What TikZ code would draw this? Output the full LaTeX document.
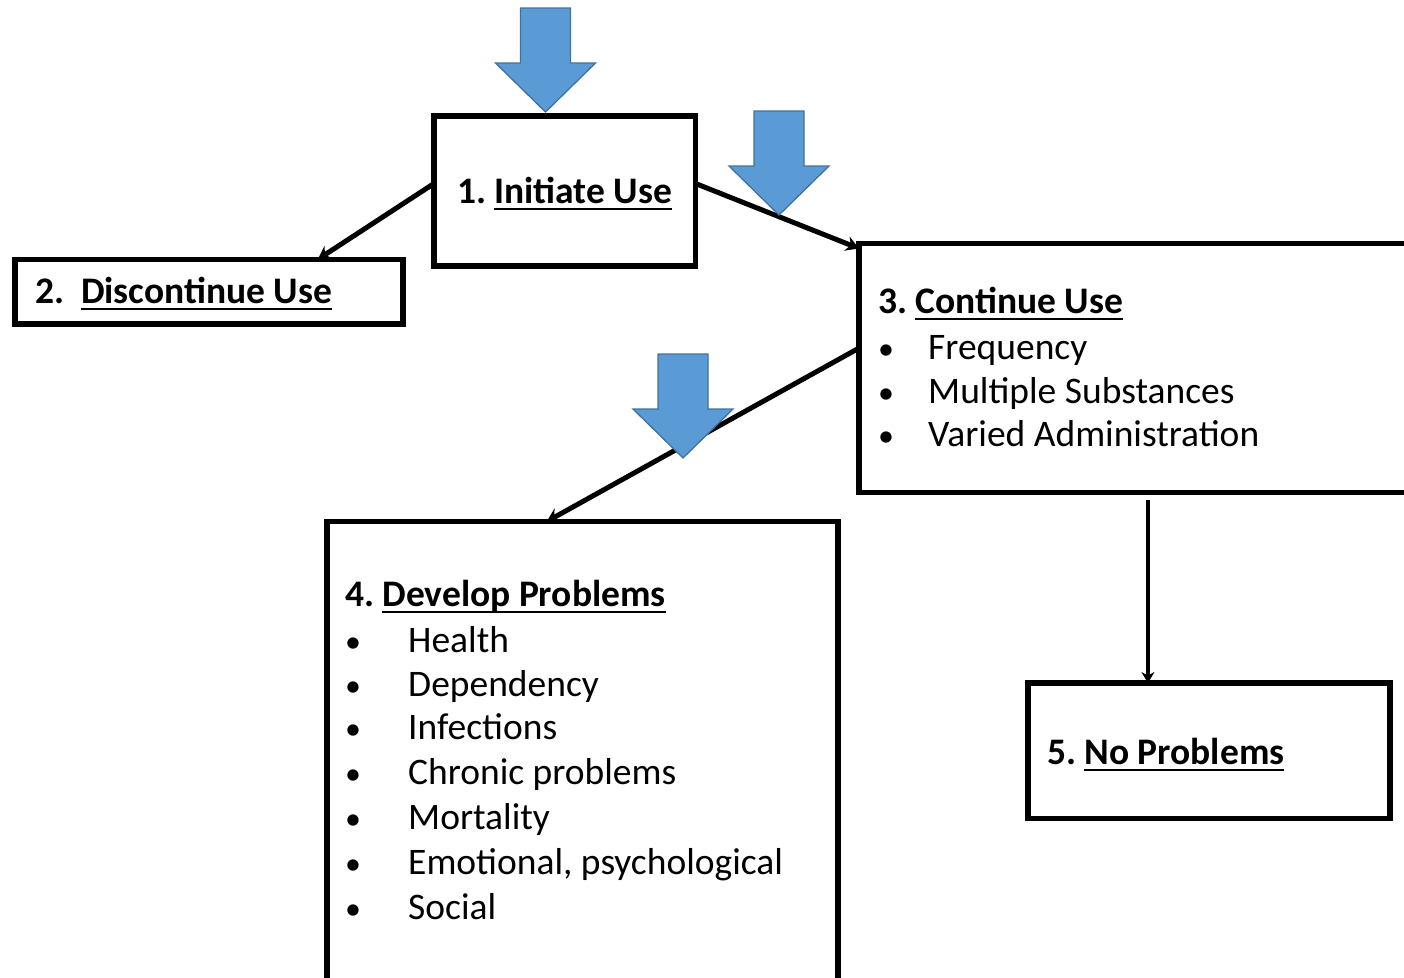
\documentclass[tikz,border=0pt]{standalone}
\usepackage{fontspec}
\setmainfont{Carlito}
\usetikzlibrary{arrows.meta,calc}

\definecolor{arrowblue}{HTML}{5B9BD5}
\definecolor{arrowedge}{HTML}{41719C}

% underline at a fixed depth below the baseline, ignoring descenders
\newcommand\ulword[1]{\setbox0\hbox{#1}\rlap{\rule[-0.19em]{\wd0}{0.06em}}\box0}
% list bullet set in a box of the given width
\newcommand\bul[1]{\makebox[#1][l]{\fontsize{32}{40}\selectfont•}}

\begin{document}
\begin{tikzpicture}[x=1pt,y=-1pt,
  stagebox/.style={draw, line width=5.5pt, rectangle, inner sep=0pt, outer sep=0pt, anchor=north west},
  link/.style={line width=5pt, -{Stealth[length=13pt,width=15pt]}},
  bluearrow/.style={fill=arrowblue, draw=arrowedge, line width=1.3pt, line join=miter},
  title/.style={anchor=base west, inner sep=0pt, font=\fontsize{37.5}{44}\selectfont\bfseries},
  item/.style={anchor=base west, inner sep=0pt, font=\fontsize{37.5}{44}\selectfont},
  downarrow/.pic={\draw[bluearrow] (-25,0) -- (25,0) -- (25,55) -- (50,55) -- (0,104) -- (-50,55) -- (-25,55) -- cycle;}
]
\useasboundingbox (0,0) rectangle (1404,977);

% stage boxes
\node[stagebox, minimum width=261.5pt, minimum height=150pt] (b1) at (434,116) {};
\node[stagebox, minimum width=388pt, minimum height=64.5pt] (b2) at (15,259.5) {};
\node[stagebox, minimum width=561pt, minimum height=249pt] (b3) at (859,243.5) {};
\node[stagebox, minimum width=511pt, minimum height=480pt] (b4) at (327,521.5) {};
\node[stagebox, minimum width=362pt, minimum height=135.5pt] (b5) at (1028,683) {};

% box texts
\node[title] (t1) at (457,203) {1.\hspace{0.22em}\ulword{Initiate Use}};
\node[title] (t2) at (35,303) {2.\hspace{0.45em}\ulword{Discontinue Use}};
\node[title] (t3) at (878,313) {3.\hspace{0.22em}\ulword{Continue Use}};
\node[item] (t3a) at (878,359) {\bul{50pt}Frequency};
\node[item] (t3b) at (878,403) {\bul{50pt}Multiple Substances};
\node[item] (t3c) at (878,446) {\bul{50pt}Varied Administration};
\node[title] (t4) at (345,606) {4.\hspace{0.22em}\ulword{Develop Problems}};
\node[item] (t4a) at (345,652) {\bul{63pt}Health};
\node[item] (t4b) at (345,696) {\bul{63pt}Dependency};
\node[item] (t4c) at (345,739) {\bul{63pt}Infections};
\node[item] (t4d) at (345,784) {\bul{63pt}Chronic problems};
\node[item] (t4e) at (345,829) {\bul{63pt}Mortality};
\node[item] (t4f) at (345,874) {\bul{63pt}Emotional, psychological};
\node[item] (t4g) at (345,919) {\bul{63pt}Social};
\node[title] (t5) at (1047,764) {5.\hspace{0.22em}\ulword{No Problems}};

% connectors between stages
\draw[link] ($(b1.north west)!0.45!(b1.south west)$) -- ($(b2.north west)!0.78!(b2.north east)$);
\draw[link] ($(b1.north east)!0.45!(b1.south east)$) -- ($(b3.north west)!0.02!(b3.south west)$);
\draw[link] ($(b3.north west)!0.42!(b3.south west)$) -- ($(b4.north west)!0.43!(b4.north east)$);
\coordinate (d3) at ($(b3.south west)!0.515!(b3.south east)$);
\draw[line width=4.5pt, -{Stealth[length=11pt,width=13pt]}, shorten <=7pt] (d3) -- (d3 |- b5.north);

% blue block arrows
\pic at (545.5,8) {downarrow};
\pic at (779,111) {downarrow};
\pic at (683,354) {downarrow};
\end{tikzpicture}
\end{document}
